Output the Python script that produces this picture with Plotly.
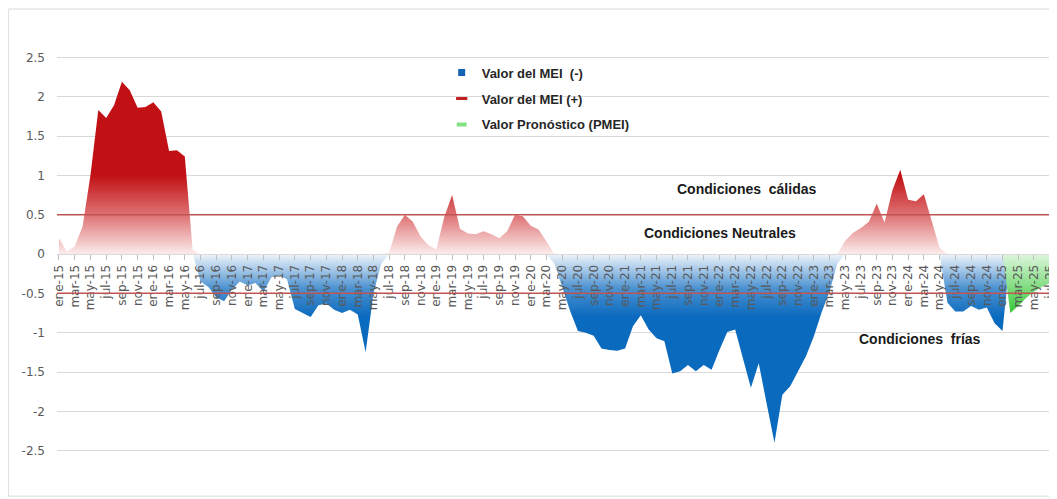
import numpy as np
import plotly.graph_objects as go

# ---------------- data ----------------
meses = ["ene", "feb", "mar", "abr", "may", "jun", "jul", "ago", "sep", "oct", "nov", "dic"]
anios = list(range(15, 26))
months = [f"{m}-{a}" for a in anios for m in meses][:127]   # ene-15 ... jul-25

# Observed MEI values (ene-15 ... ene-25)
mei = [0.20, 0.03, 0.10, 0.35, 1.00, 1.83, 1.73, 1.89, 2.19, 2.08, 1.86, 1.87,
       1.93, 1.81, 1.31, 1.32, 1.24, 0.05, -0.35, -0.42, -0.55, -0.60, -0.45, -0.35,
       -0.40, -0.37, -0.48, -0.30, -0.27, -0.32, -0.70, -0.75, -0.80, -0.65, -0.63, -0.71,
       -0.75, -0.71, -0.77, -1.25, -0.50, -0.12, 0.02, 0.35, 0.50, 0.41, 0.22, 0.11,
       0.06, 0.47, 0.75, 0.32, 0.26, 0.25, 0.29, 0.25, 0.20, 0.29, 0.50, 0.48,
       0.36, 0.31, 0.16, -0.12, -0.42, -0.72, -0.98, -1.00, -1.04, -1.20, -1.22, -1.23,
       -1.20, -0.92, -0.78, -0.96, -1.07, -1.11, -1.52, -1.49, -1.41, -1.49, -1.41, -1.47,
       -1.22, -0.99, -0.96, -1.33, -1.70, -1.39, -1.90, -2.40, -1.79, -1.68, -1.49, -1.30,
       -1.05, -0.74, -0.48, -0.12, 0.17, 0.27, 0.33, 0.41, 0.64, 0.40, 0.81, 1.07,
       0.69, 0.67, 0.76, 0.42, 0.08, -0.62, -0.73, -0.73, -0.66, -0.71, -0.68, -0.88,
       -0.98]
# Forecast PMEI values (feb-25 ... jul-25)
pmei = [-0.75, -0.66, -0.56, -0.48, -0.42, -0.37]

umbral_calido = 0.5
umbral_frio = -0.5

texto_calido = "Condiciones  cálidas"
texto_neutral = "Condiciones Neutrales"
texto_frio = "Condiciones  frías"

# ---------------- derived series (Excel: blanks plotted as zero) ----------------
n = len(months)
xi = list(range(n))
mei_full = np.full(n, np.nan)
mei_full[:len(mei)] = mei
pmei_full = np.full(n, np.nan)
pmei_full[len(mei):len(mei) + len(pmei)] = pmei

mei_z = np.nan_to_num(mei_full)
pos = np.maximum(mei_z, 0)
neg = np.minimum(mei_z, 0)
green = np.nan_to_num(pmei_full)

fig = go.Figure()

fig.add_trace(go.Scatter(
    x=xi, y=neg, mode="none", fill="tozeroy", showlegend=False,
    name="Valor del MEI  (-)", legendgroup="neg", hoverinfo="skip",
    fillgradient=dict(type="vertical", start=-0.8, stop=0,
                      colorscale=[[0, "rgb(10,106,190)"], [0.45, "rgb(75,145,208)"],
                                  [1, "rgb(240,245,251)"]]),
))
fig.add_trace(go.Scatter(
    x=xi, y=pos, mode="none", fill="tozeroy", showlegend=False,
    name="Valor del MEI (+)", legendgroup="pos", hoverinfo="skip",
    fillgradient=dict(type="vertical", start=0, stop=1.0,
                      colorscale=[[0, "rgb(252,236,236)"], [0.5, "rgb(222,112,114)"],
                                  [1, "rgb(193,17,20)"]]),
))
fig.add_trace(go.Scatter(
    x=xi, y=green, mode="none", fill="tozeroy", showlegend=False,
    name="Valor Pronóstico (PMEI)", legendgroup="pmei", hoverinfo="skip",
    fillgradient=dict(type="vertical", start=-0.75, stop=0,
                      colorscale=[[0, "rgb(55,200,55)"], [1, "rgb(222,246,222)"]]),
))

# legend entries
fig.add_trace(go.Scatter(x=[None], y=[None], mode="markers", name="Valor del MEI  (-)",
                         legendgroup="neg",
                         marker=dict(symbol="square", size=7, color="rgb(20,100,180)")))
fig.add_trace(go.Scatter(x=[None], y=[None], mode="markers", name="Valor del MEI (+)",
                         legendgroup="pos",
                         marker=dict(symbol="line-ew", size=8,
                                     line=dict(width=3, color="rgb(192,32,36)"))))
fig.add_trace(go.Scatter(x=[None], y=[None], mode="markers", name="Valor Pronóstico (PMEI)",
                         legendgroup="pmei",
                         marker=dict(symbol="line-ew", size=7,
                                     line=dict(width=4, color="rgb(130,225,130)"))))

# threshold lines
for u in (umbral_calido, umbral_frio):
    fig.add_shape(type="line", xref="paper", x0=0, x1=1, yref="y", y0=u, y1=u,
                  line=dict(color="rgb(192,84,82)", width=1.5), layer="above")

# chart border
fig.add_shape(type="rect", xref="paper", yref="paper", x0=-0.049, x1=1.05,
              y0=-0.013, y1=1.019, line=dict(color="#D9D9D9", width=1), layer="below")

annot_font = dict(family="Liberation Sans, Arial", size=14, color="#1a1a1a", weight="bold")
fig.add_annotation(x=87.4, y=0.82, text=texto_calido, showarrow=False, font=annot_font)
fig.add_annotation(x=84.1, y=0.27, text=texto_neutral, showarrow=False, font=annot_font)
fig.add_annotation(x=109.5, y=-1.08, text=texto_frio, showarrow=False, font=annot_font)

yt = [2.5, 2, 1.5, 1, 0.5, 0, -0.5, -1, -1.5, -2, -2.5]
fig.update_layout(
    width=1049, height=491,
    margin=dict(l=49, r=0, t=10, b=9),
    paper_bgcolor="white", plot_bgcolor="white",
    showlegend=True,
    legend=dict(x=0.387, y=0.916, xanchor="left", yanchor="top",
                bgcolor="rgba(0,0,0,0)", tracegroupgap=6,
                font=dict(family="Liberation Sans, Arial", size=13, color="#262626",
                          weight="bold")),
    xaxis=dict(range=[-0.253, 126.17], anchor="free", position=0.5,
               tickmode="array", tickvals=xi[::2], ticktext=months[::2],
               tickangle=-90, ticks="outside", ticklen=5, tickcolor="#BFBFBF",
               showline=True, linecolor="#D9D9D9", linewidth=1,
               showgrid=False, zeroline=False, ticklabeloverflow="allow",
               tickfont=dict(family="DejaVu Sans", size=12, color="#595959")),
    yaxis=dict(range=[-3, 3], tickmode="array", tickvals=yt,
               ticktext=[f"{v:g}" for v in yt], showgrid=True, gridcolor="#D9D9D9",
               zeroline=False, showline=False, ticks="", ticklabelstandoff=11,
               tickfont=dict(family="DejaVu Sans", size=12, color="#595959")),
)

fig.write_html("out.html")
